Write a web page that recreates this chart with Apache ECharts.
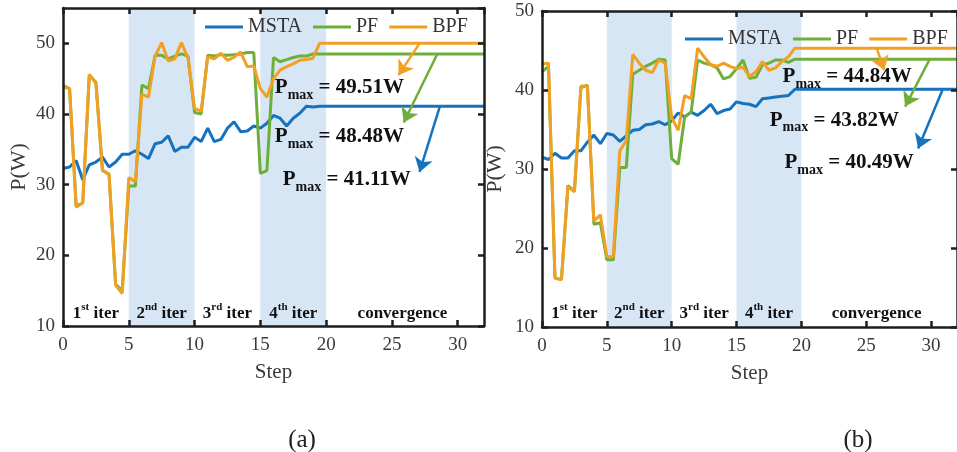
<!DOCTYPE html>
<html><head><meta charset="utf-8">
<script src="https://cdn.jsdelivr.net/npm/echarts@6/dist/echarts.min.js"></script>
<style>html,body{margin:0;padding:0;background:#fff}#c{width:957px;height:452px}</style>
</head><body><div id="c"></div>
<script>
// ---- data ----
const steps = [0,0.5,1,1.5,2,2.5,3,3.5,4,4.5,5,5.5,6,6.5,7,7.5,8,8.5,9,9.5,10,10.5,11,11.5,12,12.5,13,13.5,14,14.5,15,15.5,16,16.5,17,17.5,18,18.5,19,19.5,20,32];
const seriesNames = ['MSTA','PF','BPF'];
// chart (a)
const mstaA = [32.3,32.5,33.4,30.7,32.8,33.2,33.9,32.5,33.2,34.3,34.3,34.8,34.3,33.7,35.8,36.0,36.9,34.7,35.3,35.3,36.7,36.1,38.0,36.1,36.4,38.0,38.9,37.5,37.6,38.3,38.0,38.7,39.8,39.4,38.3,39.4,40.1,41.1,41.0,41.1,41.1,41.1];
const pfA   = [44.0,43.6,27.0,27.4,45.5,44.5,32.0,31.5,15.9,15.0,29.8,29.8,44.1,43.6,48.3,48.3,47.8,48.2,48.5,48.2,40.2,40.0,48.3,48.2,48.4,48.3,48.4,48.5,48.7,48.7,31.6,32.0,48.0,47.4,47.7,48.0,48.2,48.2,48.5,48.5,48.5,48.5];
const bpfA  = [43.8,43.6,26.8,27.4,45.6,44.3,32.1,31.4,15.8,14.6,31.0,30.4,42.8,42.4,48.2,50.1,47.5,47.8,50.1,47.9,40.8,40.4,48.1,47.8,48.6,47.6,48.0,48.8,46.7,46.8,43.6,42.4,45.0,46.2,46.7,47.1,47.6,47.7,47.9,50.0,50.0,50.0];
// chart (b)
const mstaB = [31.5,31.2,32.0,31.4,31.4,32.3,32.3,33.4,34.3,33.2,34.5,34.3,33.5,34.2,34.9,35.0,35.6,35.7,36.0,35.6,36.1,37.1,36.6,37.2,36.8,37.4,38.2,37.0,37.4,37.6,38.5,38.3,38.2,37.9,38.9,39.0,39.1,39.2,39.3,40.1,40.1,40.1];
const pfB   = [42.3,43.0,16.2,16.0,27.9,27.2,40.3,40.6,23.0,23.2,18.5,18.5,30.2,30.2,42.0,42.5,43.0,43.4,43.9,43.8,31.3,30.6,36.6,37.2,43.8,43.4,43.2,42.8,41.4,41.7,42.7,43.8,41.5,41.6,43.2,43.4,43.8,43.8,43.5,43.9,43.9,43.9];
const bpfB  = [43.3,43.4,16.2,16.0,27.8,27.1,40.5,40.5,23.4,24.2,18.9,18.9,32.3,33.6,44.5,43.4,42.5,42.2,43.8,43.4,36.5,34.9,39.3,38.9,45.3,44.2,43.2,43.0,43.4,43.0,42.7,42.9,41.7,42.3,43.6,42.5,42.8,43.6,44.2,45.3,45.3,45.3];
// P_max labels, in series order MSTA, PF, BPF
const pmaxA = ['41.11W','48.48W','49.51W'];
const pmaxB = ['40.49W','43.82W','44.84W'];
const stageLabels = ['{n|1}{u|st}{n| iter}','{n|2}{u|nd}{n| iter}','{n|3}{u|rd}{n| iter}','{n|4}{u|th}{n| iter}','{n|convergence}'];
const stageCenters = [2.5,7.5,12.5,17.5,25.8];
const bands = [[5,10],[15,20]];

// ---- styling ----
const FONT = 'Liberation Serif';
const colors = ['#1672BD','#6FAE3A','#F2A023'];
const axisCol = '#1e1e1e';

function pairs(v){ return steps.map((s,i)=>[s,v[i]]); }

function makeAxes(gi, yMax, yNameGap, showMaxY){
  const base = {
    type:'value', gridIndex:gi, min:0, max:32, interval:5, z:10,
    axisLine:{show:true, onZero:false, lineStyle:{color:axisCol,width:2.5}},
    axisTick:{show:true, inside:true, length:6, lineStyle:{color:axisCol,width:2.5}},
    splitLine:{show:false}
  };
  const xs = [
    Object.assign({}, base, {position:'bottom', name:'Step', nameLocation:'middle', nameGap:36,
      nameTextStyle:{fontFamily:FONT,fontSize:21,color:'#3a3a3a'},
      axisLabel:{fontFamily:FONT,fontSize:19,color:'#3a3a3a',margin:10,showMaxLabel:false}}),
    Object.assign({}, base, {position:'top', axisLabel:{show:false}})
  ];
  const ybase = {
    type:'value', gridIndex:gi, min:10, max:yMax, interval:10, z:10,
    axisLine:{show:true, onZero:false, lineStyle:{color:axisCol,width:2.5}},
    axisTick:{show:true, inside:true, length:6, lineStyle:{color:axisCol,width:2.5}},
    splitLine:{show:false}
  };
  const ys = [
    Object.assign({}, ybase, {position:'left', name:'P(W)', nameLocation:'middle', nameGap:yNameGap,
      nameTextStyle:{fontFamily:FONT,fontSize:22,color:'#3a3a3a'},
      axisLabel:{fontFamily:FONT,fontSize:19,color:'#3a3a3a',margin:8,showMaxLabel:showMaxY}}),
    Object.assign({}, ybase, {position:'right', axisLabel:{show:false}})
  ];
  return {xs, ys};
}

const richP = {
  p:{fontFamily:FONT,fontSize:21,fontWeight:'bold',color:'#111',lineHeight:20,verticalAlign:'top'},
  s:{fontFamily:FONT,fontSize:14,fontWeight:'bold',color:'#111',lineHeight:36,verticalAlign:'middle'}
};
const richIter = {
  n:{fontFamily:FONT,fontSize:17,fontWeight:'bold',color:'#111',lineHeight:20,verticalAlign:'bottom'},
  u:{fontFamily:FONT,fontSize:11,fontWeight:'bold',color:'#111',lineHeight:11,verticalAlign:'top'}
};

function makeSeries(gi, vals, pmax, arrows, labelPos, stageY){
  const out = [];
  vals.forEach((v,k)=>{
    const s = {
      name:seriesNames[k], type:'line', xAxisIndex:gi*2, yAxisIndex:gi*2,
      data:pairs(v), symbol:'none', lineStyle:{color:colors[k],width:3}, itemStyle:{color:colors[k]},
      z:2+k, animation:false,
      markLine:{silent:true, animation:false, symbol:['none','arrow'], symbolSize:14,
        lineStyle:{color:colors[k],width:2.5,type:'solid'}, itemStyle:{color:colors[k]}, label:{show:false},
        emphasis:{disabled:true},
        data:[[{coord:arrows[k][0], symbol:'none'},{coord:arrows[k][1], symbol:'arrow', symbolSize:14}]]},
      markPoint:{silent:true, animation:false, symbol:'circle', symbolSize:0,
        label:{show:true, position:'right', distance:0, rich:richP},
        data:[{coord:labelPos[k], label:{formatter:'{p|P}{s|max}{p| = '+pmax[k]+'}'}}]}
    };
    if(k===0){
      s.markArea = {silent:true, animation:false, itemStyle:{color:'#D6E6F4'},
        data:bands.map(b=>[{xAxis:b[0]},{xAxis:b[1]}])};
      s.markPoint.data = s.markPoint.data.concat(stageLabels.map((t,i)=>({coord:[stageCenters[i],stageY],
        label:{formatter:t, position:'inside', rich:richIter}})));
    }
    out.push(s);
  });
  return out;
}

const axA = makeAxes(0,55,33,false), axB = makeAxes(1,50,36,true);

const option = {
  animation:false,
  backgroundColor:'#fff',
  grid:[
    {left:63, top:8, right:473, bottom:126},
    {left:542, top:11, right:-4, bottom:125}
  ],
  xAxis:[...axA.xs, ...axB.xs],
  yAxis:[...axA.ys, ...axB.ys],
  legend:[
    {left:205, top:17, padding:0, width:320, itemWidth:38, itemHeight:3, icon:'rect', itemGap:11, data:seriesNames,
     textStyle:{fontFamily:FONT,fontSize:20,color:'#333'}},
    {left:685, top:29, padding:0, width:320, itemWidth:38, itemHeight:3, icon:'rect', itemGap:11, data:seriesNames,
     textStyle:{fontFamily:FONT,fontSize:20,color:'#333'}}
  ],
  graphic:[
    {type:'text', x:302, y:440, style:{text:'(a)', textAlign:'center', textVerticalAlign:'middle', fontFamily:FONT, fontSize:25, fill:'#222'}},
    {type:'text', x:858, y:440, style:{text:'(b)', textAlign:'center', textVerticalAlign:'middle', fontFamily:FONT, fontSize:25, fill:'#222'}}
  ],
  series:[
    ...makeSeries(0,[mstaA,pfA,bpfA],pmaxA,
      [ [[28.65,41.1],[27.1,31.8]], [[28.45,48.5],[25.9,38.8]], [[27.1,50.0],[25.5,45.5]] ],
      [[16.7,29.59],[16.1,35.74],[16.1,42.67]], 12.0),
    ...makeSeries(1,[mstaB,pfB,bpfB],pmaxB,
      [ [[30.9,40.1],[29.0,32.6]], [[29.9,43.9],[28.0,37.9]], [[25.8,45.3],[26.4,42.5]] ],
      [[18.7,29.86],[17.56,35.21],[18.55,40.70]], 11.9)
  ]
};
const chart = echarts.init(document.getElementById('c'), null, {renderer:'canvas'});
chart.setOption(option);
</script></body></html>
